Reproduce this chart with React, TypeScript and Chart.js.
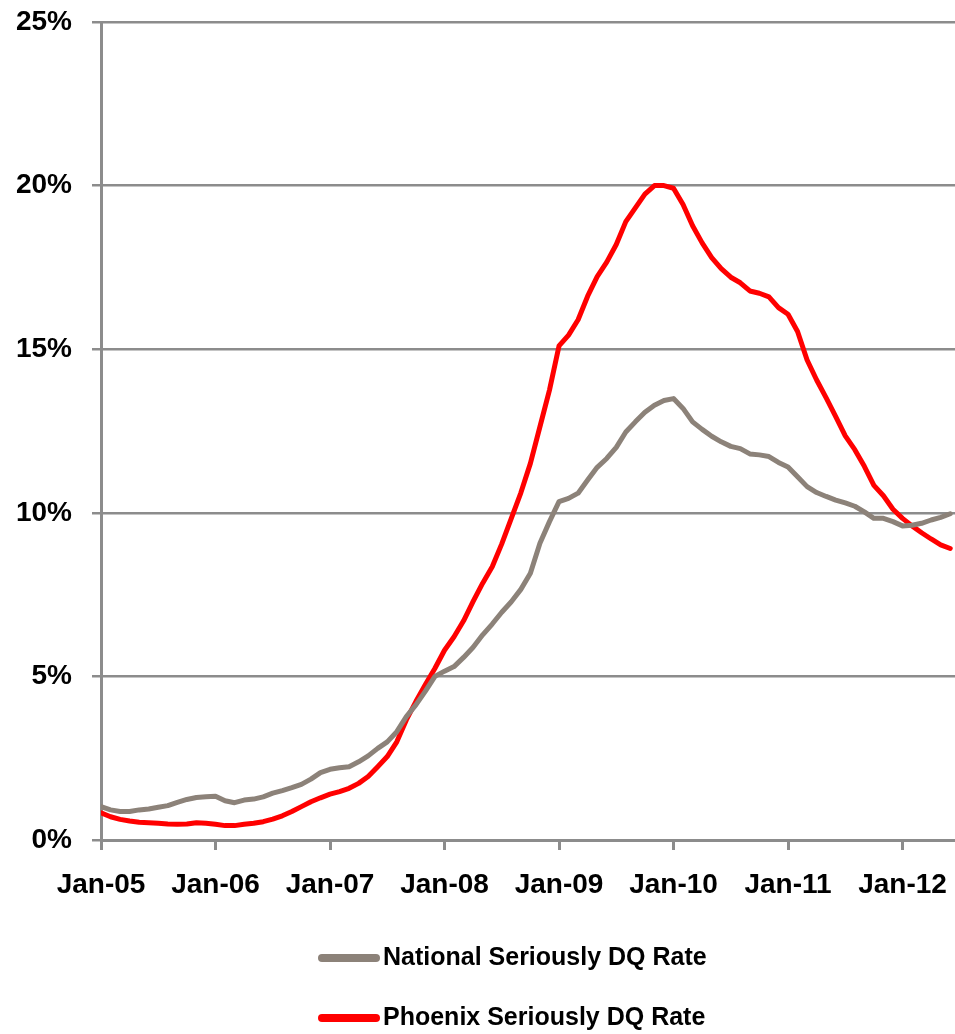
import { useEffect, useRef } from "react";
import { Chart, registerables } from "chart.js";

Chart.register(...registerables);

const yearLabels = ["Jan-05", "Jan-06", "Jan-07", "Jan-08", "Jan-09", "Jan-10", "Jan-11", "Jan-12"];
const yTickValues = [0, 5, 10, 15, 20, 25];
const yTickLabels = ["0%", "5%", "10%", "15%", "20%", "25%"];

// Monthly values, Jan-05 .. Jun-12 (percent)
const national = [
  1.02, 0.92, 0.87, 0.87, 0.92, 0.95, 1.0, 1.05, 1.15, 1.24, 1.3, 1.32,
  1.34, 1.2, 1.14, 1.22, 1.25, 1.32, 1.43, 1.51, 1.6, 1.7, 1.86, 2.06,
  2.16, 2.21, 2.24, 2.39, 2.57, 2.8, 3.0, 3.31, 3.77, 4.13, 4.55, 5.0,
  5.16, 5.3, 5.58, 5.89, 6.27, 6.6, 6.96, 7.28, 7.66, 8.15, 9.07, 9.73,
  10.34, 10.44, 10.6, 11.0, 11.39, 11.66, 12.0, 12.47, 12.78, 13.07, 13.29, 13.43,
  13.49, 13.19, 12.78, 12.55, 12.34, 12.17, 12.03, 11.96, 11.8, 11.77, 11.72, 11.54,
  11.4, 11.1, 10.8, 10.62, 10.5, 10.39, 10.3, 10.2, 10.03, 9.83, 9.83, 9.73,
  9.6, 9.62, 9.68, 9.78, 9.86, 9.97,
];

const phoenix = [
  0.83, 0.71, 0.63, 0.58, 0.54, 0.53, 0.51, 0.49, 0.48, 0.49, 0.53, 0.51,
  0.48, 0.44, 0.44, 0.48, 0.51, 0.56, 0.64, 0.74, 0.87, 1.02, 1.17, 1.29,
  1.4, 1.48, 1.58, 1.73, 1.94, 2.24, 2.55, 3.0, 3.67, 4.23, 4.75, 5.25,
  5.8, 6.21, 6.7, 7.29, 7.85, 8.35, 9.05, 9.83, 10.61, 11.51, 12.63, 13.75,
  15.1, 15.43, 15.9, 16.62, 17.22, 17.66, 18.2, 18.9, 19.32, 19.74, 20.0, 20.0,
  19.92, 19.42, 18.77, 18.25, 17.8, 17.46, 17.2, 17.03, 16.78, 16.71, 16.6, 16.27,
  16.07, 15.54, 14.67, 14.06, 13.51, 12.94, 12.35, 11.93, 11.42, 10.84, 10.52, 10.11,
  9.83, 9.6, 9.39, 9.2, 9.02, 8.91,
];

const seriesNames = ["National Seriously DQ Rate", "Phoenix Seriously DQ Rate"];
const seriesColors = ["#8C8279", "#FF0000"];

const FONT = '"Liberation Sans", Arial, sans-serif';
const GRID = "#8C8C8C";

export default function App() {
  const ref = useRef<HTMLCanvasElement>(null);

  useEffect(() => {
    if (!ref.current) return;

    const legendPlugin = {
      id: "stackedLegend",
      afterDraw(chart: any) {
        const ctx = chart.ctx;
        const area = chart.chartArea;
        ctx.save();
        chart.data.datasets.forEach((ds: any, k: number) => {
          const y = area.bottom + 118 + k * 60;
          ctx.strokeStyle = ds.borderColor;
          ctx.lineWidth = 8;
          ctx.lineCap = "round";
          ctx.beginPath();
          ctx.moveTo(322, y);
          ctx.lineTo(376, y);
          ctx.stroke();
          ctx.fillStyle = "#000";
          ctx.font = `bold 25px ${FONT}`;
          ctx.textBaseline = "middle";
          ctx.textAlign = "left";
          ctx.fillText(ds.label, 383, y);
        });
        ctx.restore();
      },
    };

    const zeroPad = (s: any) => {
      s.paddingTop = 0;
      s.paddingBottom = 0;
      s.paddingLeft = 0;
      s.paddingRight = 0;
    };

    const chart = new Chart(ref.current, {
      type: "line",
      data: {
        datasets: [
          {
            label: seriesNames[0],
            data: national.map((v, i) => ({ x: i, y: v })),
            borderColor: seriesColors[0],
            backgroundColor: seriesColors[0],
            borderWidth: 5,
            pointRadius: 0,
            tension: 0,
            borderJoinStyle: "round",
            borderCapStyle: "round",
          },
          {
            label: seriesNames[1],
            data: phoenix.map((v, i) => ({ x: i, y: v })),
            borderColor: seriesColors[1],
            backgroundColor: seriesColors[1],
            borderWidth: 5,
            pointRadius: 0,
            tension: 0,
            borderJoinStyle: "round",
            borderCapStyle: "round",
          },
        ],
      },
      options: {
        animation: false,
        responsive: false,
        maintainAspectRatio: false,
        layout: { padding: { top: 22, right: 0, left: 0, bottom: 134 } },
        plugins: {
          legend: { display: false },
          tooltip: { enabled: false },
        },
        scales: {
          x: {
            type: "linear",
            min: 0,
            max: 89.5,
            afterBuildTicks: (s: any) => {
              s.ticks = yearLabels.map((_, k) => ({ value: k * 12 }));
            },
            afterFit: (s: any) => {
              s.height = 60;
              zeroPad(s);
            },
            ticks: {
              callback: (v: any) => yearLabels[Math.round(Number(v) / 12)] ?? "",
              font: { size: 28, weight: "bold", family: FONT },
              color: "#000",
              padding: 18,
              maxRotation: 0,
              autoSkip: false,
            },
            grid: {
              drawOnChartArea: false,
              drawTicks: true,
              tickLength: 10,
              color: GRID,
              lineWidth: 3,
            },
            border: { color: GRID, width: 3 },
          },
          y: {
            min: 0,
            max: 25,
            afterBuildTicks: (s: any) => {
              s.ticks = yTickValues.map((v) => ({ value: v }));
            },
            afterFit: (s: any) => {
              s.width = 101;
              zeroPad(s);
            },
            ticks: {
              callback: (v: any) => yTickLabels[yTickValues.indexOf(Number(v))] ?? "",
              font: { size: 28, weight: "bold", family: FONT },
              color: "#000",
              padding: 20,
            },
            grid: {
              color: GRID,
              lineWidth: 2.5,
              tickLength: 9,
            },
            border: { color: GRID, width: 3 },
          },
        },
      },
      plugins: [legendPlugin],
    } as any);

    return () => chart.destroy();
  }, []);

  return (
    <div style={{ position: "absolute", left: 0, top: 0, width: 955, height: 1034, background: "#fff" }}>
      <canvas ref={ref} width={955} height={1034} style={{ display: "block", width: 955, height: 1034 }} />
    </div>
  );
}
